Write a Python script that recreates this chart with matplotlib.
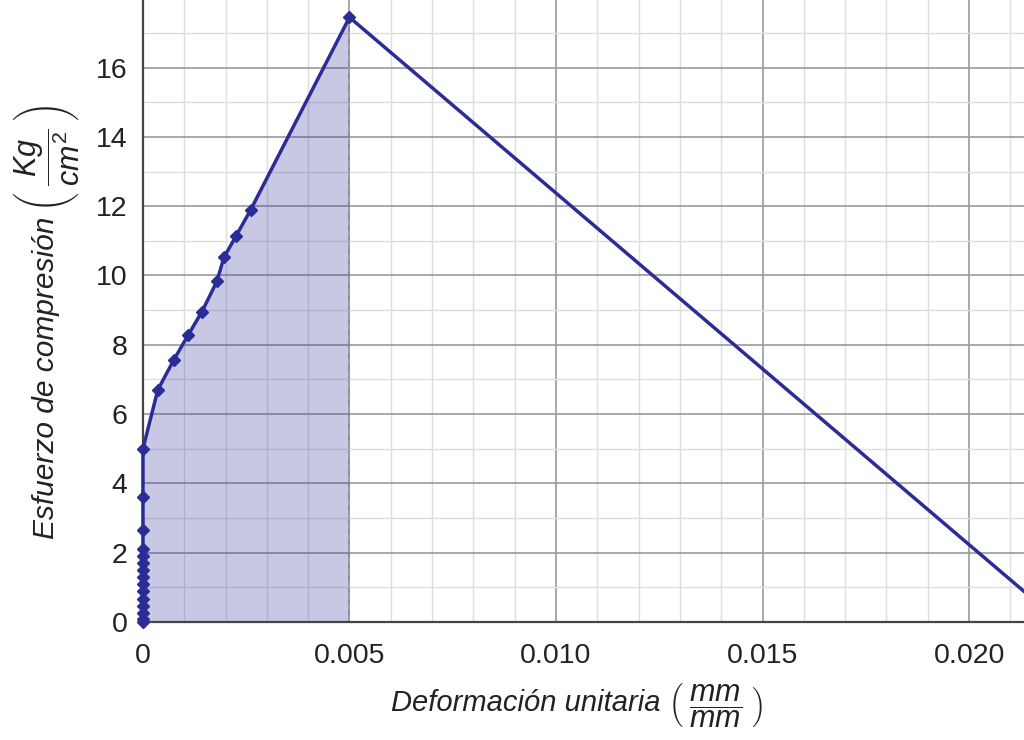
import numpy as np
import matplotlib
matplotlib.use("Agg")
import matplotlib.pyplot as plt
from matplotlib.ticker import MultipleLocator, FixedLocator

plt.rcParams["font.family"] = ["Liberation Sans", "DejaVu Sans"]
plt.rcParams["mathtext.fontset"] = "custom"
plt.rcParams["mathtext.rm"] = "Liberation Sans"
plt.rcParams["mathtext.it"] = "Liberation Sans:italic"

# measured points on the rising branch (strain, stress)
strain_up = [0, 0, 0, 0, 0, 0, 0, 0, 0, 0, 0, 0, 0, 0, 0,
             0.00036, 0.00075, 0.00109, 0.00143, 0.00179, 0.00196, 0.00225, 0.00261, 0.005]
stress_up = [0, 0.1, 0.25, 0.45, 0.65, 0.9, 1.1, 1.3, 1.5, 1.7, 1.9, 2.1, 2.65, 3.6, 5.0,
             6.7, 7.57, 8.27, 8.96, 9.83, 10.52, 11.13, 11.9, 17.45]

# descending branch
strain_down = [0.005, 0.0222]
stress_down = [17.45, 0.0]

x_ticks = [0, 0.005, 0.010, 0.015, 0.020]
x_labels = ["0", "0.005", "0.010", "0.015", "0.020"]
y_ticks = [0, 2, 4, 6, 8, 10, 12, 14, 16]

line_color = "#2b2d96"
text_color = "#222222"

fig = plt.figure(figsize=(10.24, 7.4), dpi=100)
ax = fig.add_axes([0.1396, 0.1595, 0.8604, 0.8405])

ax.set_xlim(0, 0.02133)
ax.set_ylim(0, 17.95)

# grid
ax.xaxis.set_major_locator(FixedLocator(x_ticks))
ax.xaxis.set_minor_locator(MultipleLocator(0.001))
ax.yaxis.set_major_locator(FixedLocator(y_ticks))
ax.yaxis.set_minor_locator(MultipleLocator(1))
ax.grid(which="major", color="#9a9a9a", linewidth=1.2, zorder=0)
ax.grid(which="minor", color="#dedede", linewidth=1.0, zorder=0)
ax.set_axisbelow(True)

# shaded area under rising curve
ax.fill_between(strain_up, stress_up, 0, color="#3a3aa0", alpha=0.28,
                linewidth=0, zorder=1)
ax.vlines(strain_down[0], 0, stress_down[0], colors="#a0a0a0",
          linestyles=(0, (4, 3)), linewidth=1.2, zorder=2)

ax.plot(strain_up, stress_up, color=line_color, linewidth=2.5, marker="D",
        markersize=6, clip_on=False, zorder=4)
ax.plot(strain_down, stress_down, color=line_color, linewidth=2.5, zorder=4)

ax.set_xticks(x_ticks)
ax.set_xticklabels(x_labels)
ax.tick_params(which="both", length=0, labelsize=20.5, colors=text_color)
ax.tick_params(axis="x", pad=15)
ax.tick_params(axis="y", pad=11)

for s in ["top", "right"]:
    ax.spines[s].set_visible(False)
for s in ["left", "bottom"]:
    ax.spines[s].set_color("#444444")
    ax.spines[s].set_linewidth(1.6)

# axis labels, units added next to them as fractions
ax.set_xlabel("Deformación unitaria", fontsize=21, style="italic",
              color=text_color)
ax.xaxis.set_label_coords(0.434, -0.108)
ax.annotate(r"$\left(\;\dfrac{mm}{mm}\;\right)$", xy=(1, 0.4),
            xycoords=ax.xaxis.label, xytext=(6, 0), textcoords="offset points",
            ha="left", va="center", fontsize=22, color=text_color)

ax.set_ylabel("Esfuerzo de compresión", fontsize=21.5, style="italic",
              color=text_color)
ax.yaxis.set_label_coords(-0.094, 0.393)
ax.annotate(r"$\left(\;\dfrac{Kg}{cm^2}\;\right)$", xy=(0.55, 1),
            xycoords=ax.yaxis.label, xytext=(0, 3), textcoords="offset points",
            ha="center", va="bottom", rotation=90, fontsize=22,
            color=text_color)

fig.savefig("out.png", dpi=100)
